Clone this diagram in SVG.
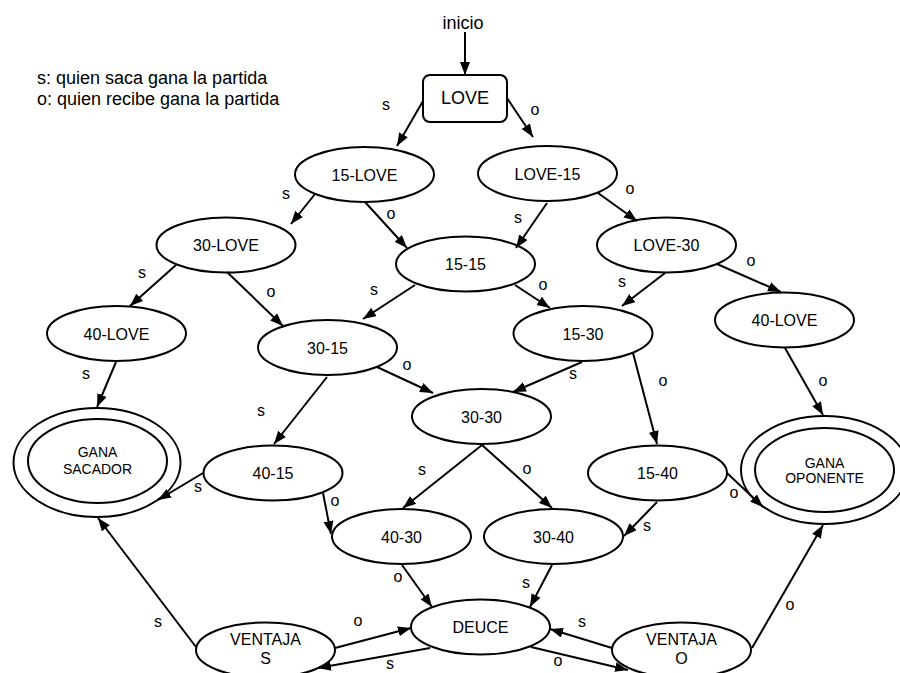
<svg xmlns="http://www.w3.org/2000/svg" width="900" height="673" viewBox="0 0 900 673">
  <style>
    text { font-family: "Liberation Sans", Arial, sans-serif; fill: #000; }
    .st { fill: #fff; stroke: #000; stroke-width: 2; }
    .lbl { font-size: 16px; text-anchor: middle; }
    .win { font-size: 14px; text-anchor: middle; }
    .ed line { stroke: #000; stroke-width: 2; marker-end: url(#arr); }
    .el { font-size: 16px; text-anchor: middle; }
    .note { font-size: 18px; }
  </style>
  <defs>
    <marker id="arr" markerUnits="userSpaceOnUse" markerWidth="14" markerHeight="11" refX="13" refY="5" orient="auto">
      <path d="M0,0 L13,5 L0,10 z" fill="#000"/>
    </marker>
  </defs>
  <rect width="900" height="673" fill="#fff"/>

  <g id="legend">
    <text class="note" x="37" y="84">s: quien saca gana la partida</text>
    <text class="note" x="37" y="105">o: quien recibe gana la partida</text>
  </g>

  <g id="inicio"><text class="note" x="463" y="29" text-anchor="middle">inicio</text></g>

  <!-- states -->
  <g id="love"><rect class="st" x="423" y="75" width="84" height="47" rx="7"/><text x="465" y="104" font-size="18" text-anchor="middle">LOVE</text></g>
  <g id="s15-love"><ellipse class="st" cx="364.5" cy="174.5" rx="69.5" ry="27.5"/><text class="lbl" x="364.5" y="180.5">15-LOVE</text></g>
  <g id="love-15"><ellipse class="st" cx="547.5" cy="173.5" rx="69.5" ry="27.5"/><text class="lbl" x="547.5" y="179.5">LOVE-15</text></g>
  <g id="s30-love"><ellipse class="st" cx="226" cy="245" rx="69.5" ry="27.5"/><text class="lbl" x="226" y="251">30-LOVE</text></g>
  <g id="s15-15"><ellipse class="st" cx="465.5" cy="264" rx="69.5" ry="27.5"/><text class="lbl" x="465.5" y="270">15-15</text></g>
  <g id="love-30"><ellipse class="st" cx="666.5" cy="245" rx="69.5" ry="27.5"/><text class="lbl" x="666.5" y="251">LOVE-30</text></g>
  <g id="s40-love-a"><ellipse class="st" cx="116.5" cy="333.5" rx="69.5" ry="27.5"/><text class="lbl" x="116.5" y="339.5">40-LOVE</text></g>
  <g id="s30-15"><ellipse class="st" cx="327.5" cy="347.5" rx="69.5" ry="27.5"/><text class="lbl" x="327.5" y="353.5">30-15</text></g>
  <g id="s15-30"><ellipse class="st" cx="583" cy="333.5" rx="69.5" ry="27.5"/><text class="lbl" x="583" y="339.5">15-30</text></g>
  <g id="s40-love-b"><ellipse class="st" cx="784.5" cy="320" rx="69.5" ry="27.5"/><text class="lbl" x="784.5" y="326">40-LOVE</text></g>
  <g id="s30-30"><ellipse class="st" cx="481.5" cy="416.5" rx="69.5" ry="27.5"/><text class="lbl" x="481.5" y="422.5">30-30</text></g>
  <g id="s40-15"><ellipse class="st" cx="273" cy="473" rx="69.5" ry="27.5"/><text class="lbl" x="273" y="479">40-15</text></g>
  <g id="s15-40"><ellipse class="st" cx="657.5" cy="473" rx="69.5" ry="27.5"/><text class="lbl" x="657.5" y="479">15-40</text></g>
  <g id="s40-30"><ellipse class="st" cx="401.5" cy="536.5" rx="69.5" ry="27.5"/><text class="lbl" x="401.5" y="542.5">40-30</text></g>
  <g id="s30-40"><ellipse class="st" cx="553.5" cy="536.5" rx="69.5" ry="27.5"/><text class="lbl" x="553.5" y="542.5">30-40</text></g>
  <g id="deuce"><ellipse class="st" cx="480.5" cy="627" rx="69.5" ry="27.5"/><text class="lbl" x="480.5" y="633">DEUCE</text></g>
  <g id="ventaja-s"><ellipse class="st" cx="265.5" cy="650" rx="69.5" ry="27.5"/><text class="lbl" x="265.5" y="645">VENTAJA</text><text class="lbl" x="265.5" y="664">S</text></g>
  <g id="ventaja-o"><ellipse class="st" cx="681.5" cy="650" rx="69.5" ry="27.5"/><text class="lbl" x="681.5" y="645">VENTAJA</text><text class="lbl" x="681.5" y="664">O</text></g>
  <g id="gana-sacador">
    <ellipse class="st" cx="97" cy="462.5" rx="83.5" ry="54.5"/>
    <ellipse class="st" cx="97.5" cy="461" rx="69.5" ry="42"/>
    <text class="win" x="97.5" y="457">GANA</text><text class="win" x="97.5" y="474">SACADOR</text>
  </g>
  <g id="gana-oponente">
    <ellipse class="st" cx="824.5" cy="470" rx="83.5" ry="54"/>
    <ellipse class="st" cx="824.5" cy="470" rx="69.5" ry="42"/>
    <text class="win" x="824.5" y="468" font-size="13">GANA</text><text class="win" x="824.5" y="483" font-size="13">OPONENTE</text>
  </g>

  <!-- transitions -->
  <g id="edges" class="ed">
    <line x1="465" y1="32" x2="465" y2="75"/>
    <line x1="423" y1="101" x2="397" y2="146"/>
    <line x1="507" y1="98" x2="533" y2="137"/>
    <line x1="315" y1="194" x2="291" y2="224"/>
    <line x1="365" y1="202" x2="407" y2="248"/>
    <line x1="547" y1="203" x2="516" y2="248"/>
    <line x1="598" y1="193" x2="637" y2="221"/>
    <line x1="176" y1="265" x2="130" y2="306"/>
    <line x1="227" y1="272" x2="283" y2="326"/>
    <line x1="415" y1="285" x2="363" y2="319"/>
    <line x1="515" y1="285" x2="550" y2="308"/>
    <line x1="665" y1="273" x2="622" y2="306"/>
    <line x1="717" y1="264" x2="781" y2="292"/>
    <line x1="116" y1="362" x2="97" y2="407"/>
    <line x1="785" y1="348" x2="823" y2="415"/>
    <line x1="377" y1="367" x2="433" y2="393"/>
    <line x1="327" y1="377" x2="274" y2="444"/>
    <line x1="582" y1="362" x2="513" y2="392"/>
    <line x1="633" y1="353" x2="657" y2="444"/>
    <line x1="482" y1="445" x2="403" y2="508"/>
    <line x1="482" y1="445" x2="552" y2="508"/>
    <line x1="203" y1="473" x2="158" y2="500"/>
    <line x1="323" y1="493" x2="331" y2="534"/>
    <line x1="657" y1="502" x2="624" y2="536"/>
    <line x1="727" y1="473" x2="763" y2="507"/>
    <line x1="402" y1="565" x2="432" y2="607"/>
    <line x1="552" y1="565" x2="530" y2="607"/>
    <line x1="335" y1="648" x2="411" y2="628"/>
    <line x1="430" y1="648" x2="318" y2="668"/>
    <line x1="612" y1="648" x2="550" y2="629"/>
    <line x1="531" y1="647" x2="628" y2="670"/>
    <line x1="752" y1="648" x2="823" y2="525"/>
    <line x1="196" y1="647" x2="98" y2="518"/>
  </g>

  <!-- transition labels -->
  <g id="edge-labels" class="el">
    <text x="386" y="110">s</text>
    <text x="535" y="115">o</text>
    <text x="286" y="199">s</text>
    <text x="391" y="219">o</text>
    <text x="518" y="223">s</text>
    <text x="630" y="194">o</text>
    <text x="142" y="278">s</text>
    <text x="271" y="297">o</text>
    <text x="374" y="295">s</text>
    <text x="543" y="290">o</text>
    <text x="622" y="287">s</text>
    <text x="751" y="266">o</text>
    <text x="86" y="379">s</text>
    <text x="823" y="386">o</text>
    <text x="407" y="370">o</text>
    <text x="261" y="416">s</text>
    <text x="573" y="379">s</text>
    <text x="663" y="386">o</text>
    <text x="422" y="475">s</text>
    <text x="527" y="474">o</text>
    <text x="198" y="492">s</text>
    <text x="335" y="506">o</text>
    <text x="647" y="531">s</text>
    <text x="734" y="498">o</text>
    <text x="398" y="582">o</text>
    <text x="526" y="588">s</text>
    <text x="358" y="626">o</text>
    <text x="390" y="669">s</text>
    <text x="582" y="627">s</text>
    <text x="558" y="666">o</text>
    <text x="790" y="610">o</text>
    <text x="158" y="627">s</text>
  </g>
</svg>
